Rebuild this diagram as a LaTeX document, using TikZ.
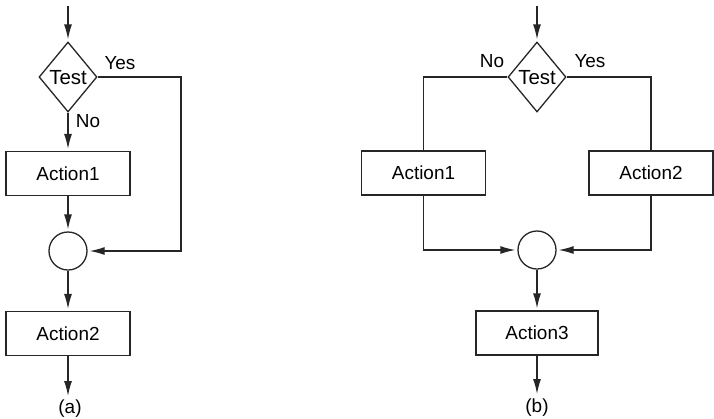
\documentclass[tikz,border=0pt]{standalone}
\usepackage{fontspec}
\setmainfont{Liberation Sans}
\usetikzlibrary{arrows.meta,shapes.geometric}
\begin{document}
\begin{tikzpicture}[x=1bp,y=-1bp,
  every node/.style={font=\fontsize{19}{21}\selectfont},
  line/.style={line width=1.3bp, draw=black!85},
  arr/.style={line, -{Latex[length=15bp,width=8bp]}, shorten >=2bp},
  actbox/.style={draw=black!85, line width=1.3bp, minimum width=124bp, minimum height=44bp, inner sep=0pt},
  testbox/.style={diamond, draw=black!85, line width=1.3bp, minimum width=58bp, minimum height=70bp, inner sep=0pt, aspect=0.83},
  joinc/.style={circle, draw=black!85, line width=1.3bp, minimum size=38bp, inner sep=0pt},
  lab/.style={inner sep=0pt},
  testlab/.style={inner sep=0pt, font=\fontsize{20.5}{22}\selectfont}
]
\useasboundingbox (0,0) rectangle (714,418);

% ---------- (a) ----------
\coordinate (aIn) at (68,6);
\node[testbox] (aT) at (68,77) {};
\node[testlab] at (68,78) {Test};
\node[actbox] (aA1) at (68,173.5) {Action1};
\node[joinc] (aC) at (68,251) {};
\node[actbox] (aA2) at (68,333.5) {Action2};
\coordinate (aOut) at (68,398);
\coordinate (aR1) at (181,77);
\coordinate (aR2) at (181,251);
\node[lab] at (120,63) {Yes};
\node[lab] at (88,121) {No};
\node[lab] at (70,409) {(a)};

\draw[arr] (aIn) -- (aT.north);
\draw[arr] (aT.south) -- (aA1.north);
\draw[arr] (aA1.south) -- (aC.north);
\draw[arr] (aC.south) -- (aA2.north);
\draw[arr] (aA2.south) -- (aOut);
\draw[arr] (aT.east) -- (aR1) -- (aR2) -- (aC.east);

% ---------- (b) ----------
\coordinate (bIn) at (537,6);
\node[testbox] (bT) at (537,77) {};
\node[testlab] at (537,78) {Test};
\node[actbox] (bA1) at (423.5,173) {Action1};
\node[actbox] (bA2) at (651,173) {Action2};
\node[joinc] (bC) at (537,250) {};
\node[actbox, minimum width=122bp] (bA3) at (537,333) {Action3};
\coordinate (bOut) at (537,396);
\coordinate (bL1) at (423.5,77);
\coordinate (bR1) at (651,77);
\coordinate (bL2) at (423.5,250);
\coordinate (bR2) at (651,250);
\node[lab] at (492,61) {No};
\node[lab] at (590,61) {Yes};
\node[lab] at (537,408) {(b)};

\draw[arr] (bIn) -- (bT.north);
\draw[line] (bT.west) -- (bL1) -- (bA1.north);
\draw[line] (bT.east) -- (bR1) -- (bA2.north);
\draw[arr] (bA1.south) -- (bL2) -- (bC.west);
\draw[arr] (bA2.south) -- (bR2) -- (bC.east);
\draw[arr] (bC.south) -- (bA3.north);
\draw[arr] (bA3.south) -- (bOut);
\end{tikzpicture}
\end{document}
